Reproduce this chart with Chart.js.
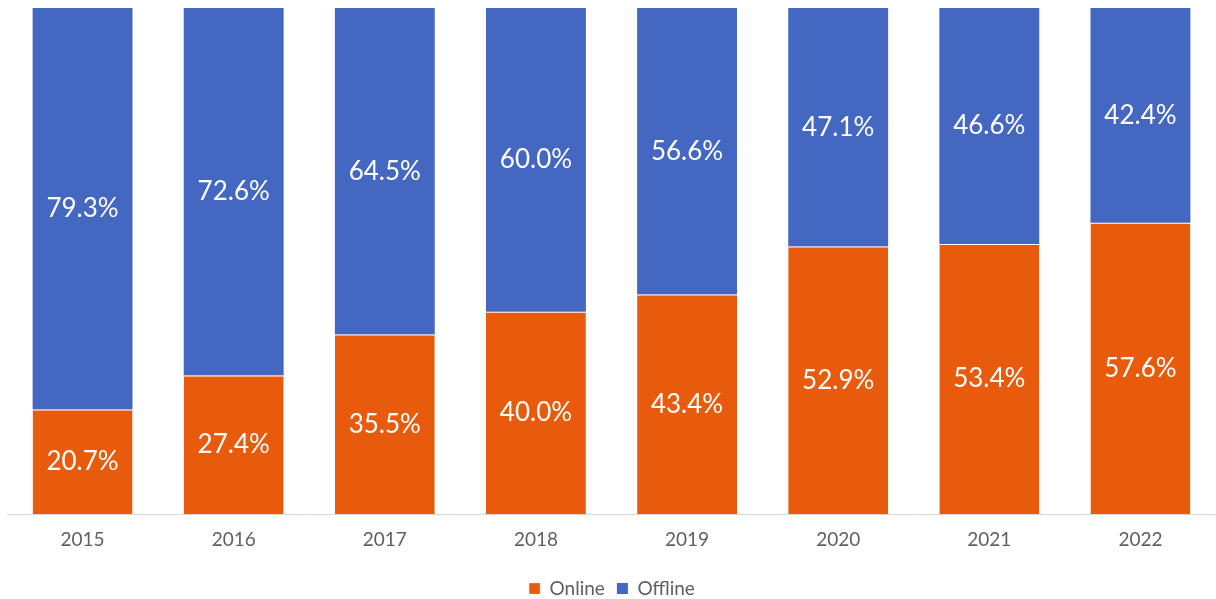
<!DOCTYPE html>
<html>
<head>
<meta charset="utf-8">
<script src="https://cdn.jsdelivr.net/npm/chart.js@4"></script>
<style>
  html, body { margin: 0; padding: 0; background: #fff; }
  #wrap { width: 1216px; height: 599px; }
</style>
</head>
<body>
<div id="wrap"><canvas id="salesChart"></canvas></div>
<script>
// Share of sales by channel, per year (%)
const years = ["2015", "2016", "2017", "2018", "2019", "2020", "2021", "2022"];
const online = [20.7, 27.4, 35.5, 40.0, 43.4, 52.9, 53.4, 57.6];
const offline = [79.3, 72.6, 64.5, 60.0, 56.6, 47.1, 46.6, 42.4];

// Value labels in the middle of each segment
const segmentLabels = {
  id: "segmentLabels",
  afterDatasetsDraw(chart) {
    const ctx = chart.ctx;
    ctx.save();
    ctx.fillStyle = "#ffffff";
    ctx.font = "26px Lato";
    ctx.textAlign = "center";
    ctx.textBaseline = "middle";
    chart.data.datasets.forEach((ds, i) => {
      chart.getDatasetMeta(i).data.forEach((bar, j) => {
        const midY = (bar.y + bar.base) / 2;
        ctx.fillText(ds.data[j].toFixed(1) + "%", bar.x, midY);
      });
    });
    ctx.restore();
  }
};

new Chart(document.getElementById("salesChart"), {
  type: "bar",
  data: {
    labels: years,
    datasets: [
      {
        label: "Online",
        data: online,
        backgroundColor: "#e85b0d",
        borderColor: "#ffffff",
        borderWidth: { top: 1, right: 0, bottom: 0, left: 0 },
        borderSkipped: false
      },
      {
        label: "Offline",
        data: offline,
        backgroundColor: "#4467c2",
        borderWidth: 0
      }
    ]
  },
  options: {
    responsive: true,
    maintainAspectRatio: false,
    animation: false,
    categoryPercentage: 1,
    barPercentage: 0.661,
    layout: { padding: { left: 7, right: -1, top: 8, bottom: -9 } },
    scales: {
      x: {
        stacked: true,
        grid: { display: false },
        border: { color: "#d9d9d9" },
        ticks: { color: "#606060", font: { family: "Lato", size: 19 }, padding: 6 },
        // a little room between the year labels and the legend
        afterFit(scale) { scale.height += 10; }
      },
      y: {
        stacked: true,
        display: false,
        min: 0,
        max: 100
      }
    },
    plugins: {
      legend: {
        position: "bottom",
        labels: {
          color: "#606060",
          font: { family: "Lato", size: 19 },
          boxWidth: 11,
          boxHeight: 11,
          padding: 12
        }
      },
      tooltip: { enabled: false }
    }
  },
  plugins: [segmentLabels]
});
</script>
</body>
</html>
